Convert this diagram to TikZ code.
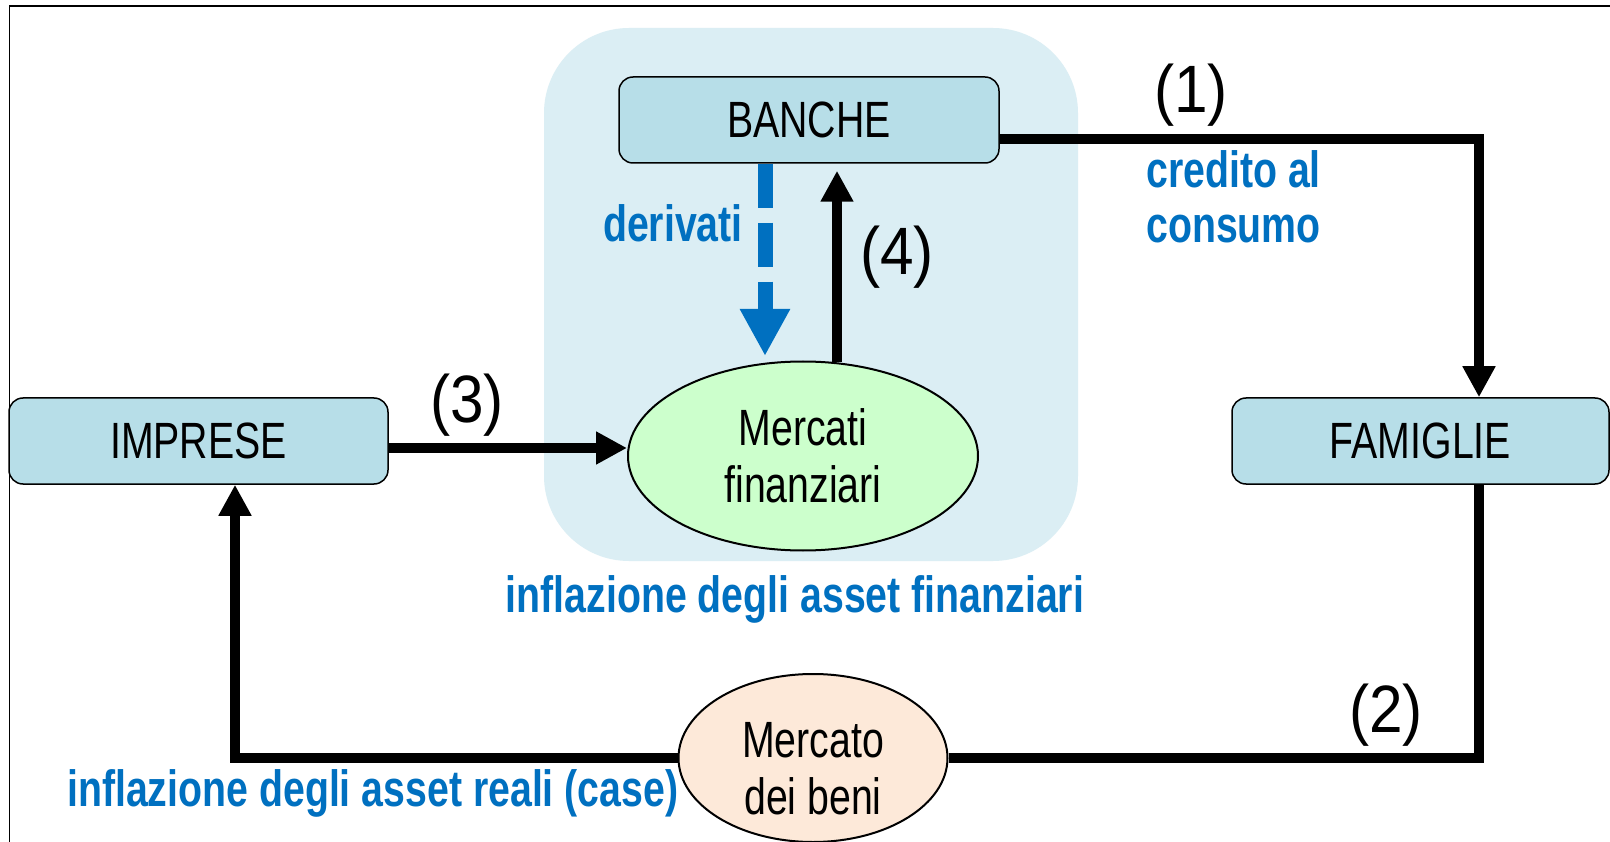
\documentclass[tikz,border=0pt]{standalone}
\usepackage{fontspec}
\setmainfont{Liberation Sans}[FakeStretch=0.77]
\newfontfamily\numfont{Liberation Sans}[FakeStretch=0.9]
\usetikzlibrary{shapes.geometric,arrows.meta,calc}
\definecolor{bgblue}{RGB}{219,238,244}
\definecolor{boxblue}{RGB}{183,222,232}
\definecolor{mgreen}{RGB}{204,255,204}
\definecolor{mpeach}{RGB}{253,233,217}
\definecolor{txtblue}{RGB}{0,112,192}
\begin{document}
\begin{tikzpicture}[x=1pt,y=-1pt,
 boxnode/.style={draw=black,line width=1.5pt,fill=boxblue,rounded corners=14pt,minimum height=86pt,inner sep=0pt,font=\fontsize{51}{58}\selectfont},
 ellnode/.style={ellipse,draw=black,line width=2pt,inner sep=0pt,align=center,font=\fontsize{51}{57}\selectfont},
 flow/.style={line width=10pt,draw=black},
 flowarrow/.style={flow,-{Triangle[width=31pt,length=31pt]}},
 numlbl/.style={font=\numfont\fontsize{67}{72}\selectfont,inner sep=0pt},
 bluelbl/.style={text=txtblue,font=\bfseries\fontsize{51}{57}\selectfont,inner sep=0pt}
]
\useasboundingbox (0,0) rectangle (1610,842);
\fill[white] (0,0) rectangle (1610,842);
\draw[line width=1.5pt] (9.5,842) -- (9.5,6) -- (1610,6);
\fill[bgblue, rounded corners=85pt] (544,28) rectangle (1078,561);
\node[boxnode,minimum width=380pt] (banche) at (809,120) {BANCHE};
\node[boxnode,minimum width=379pt] (imprese) at (198.5,441) {IMPRESE};
\node[boxnode,minimum width=377pt] (famiglie) at (1420.5,441) {FAMIGLIE};
\node[ellnode,fill=mgreen,minimum width=350pt,minimum height=189pt] (mercati) at (803,456) {Mercati\\finanziari};
\node[ellnode,fill=mpeach,minimum width=269pt,minimum height=168pt] (beni) at (813,758) {\rule{0pt}{56pt}Mercato\\dei beni};
\coordinate (c1) at (1479,139);
\coordinate (c2) at (1479,758);
\coordinate (c3) at (235,758);
\coordinate (c4) at (0,448);
\coordinate (c5) at (837,0);
\coordinate (c6) at (765,0);
\draw[flowarrow] (banche.east |- c1) -- (c1) -- (c1 |- famiglie.north);
\draw[flow] (c2 |- famiglie.south) -- (c2) -- (beni.east);
\draw[flowarrow] (beni.west) -- (c3) -- (c3 |- imprese.south);
\draw[flowarrow] (imprese.east |- c4) -- (mercati.west |- c4);
\draw[flowarrow, shorten >=7pt] ([xshift=34pt,yshift=-2pt]mercati.north) -- (c5 |- banche.south);
\draw[line width=15pt, draw=txtblue, dash pattern=on 44pt off 15pt, -{Triangle[width=47pt,length=47pt]}, shorten >=7pt] (c6 |- banche.south) -- ([xshift=-38pt,yshift=-2.5pt]mercati.north);
\node[numlbl] (n1) at (1191,95) {(1)};
\node[numlbl] (n2) at (1386,715) {(2)};
\node[numlbl] (n3) at (467,405) {(3)};
\node[numlbl] (n4) at (897,257) {(4)};
\node[bluelbl,anchor=base east] (der) at (743,242) {derivati};
\node[bluelbl,anchor=base west] (cred1) at (1146,188) {credito al};
\node[bluelbl,anchor=base west] (cred2) at (1146,243) {consumo};
\node[bluelbl,anchor=base] (inflfin) at (795,612) {inflazione degli asset finanziari};
\node[bluelbl,anchor=base west] (inflreal) at (67,806) {inflazione degli asset reali (case)};
\end{tikzpicture}
\end{document}
